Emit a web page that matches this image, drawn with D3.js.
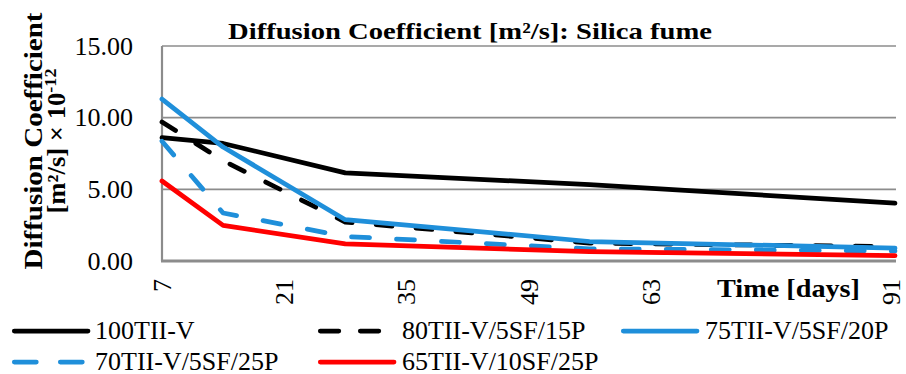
<!DOCTYPE html>
<html><head><meta charset="utf-8">
<script src="https://cdn.jsdelivr.net/npm/d3@7"></script>
<style>
body{margin:0;background:#fff}
svg{display:block}
svg text{font-family:"Liberation Serif","Tinos","Times New Roman","DejaVu Serif",serif}
</style>
</head><body>
<svg id="c" width="906" height="374"></svg>
<script>
// ---- data ----
const days = [7, 14, 28, 56, 91];
const names = ["100TII-V", "80TII-V/5SF/15P", "75TII-V/5SF/20P", "70TII-V/5SF/25P", "65TII-V/10SF/25P"];
const s100 = [8.6, 8.2, 6.15, 5.33, 4.04];
const s80  = [9.7, 7.0, 2.72, 1.25, 1.0];
const s75  = [11.3, 7.95, 2.88, 1.36, 0.9];
const s70  = [8.36, 3.35, 1.71, 0.85, 0.7];
const s65  = [5.58, 2.48, 1.2, 0.65, 0.37];
const yTicks = [0, 5, 10, 15];
const xTicks = [7, 21, 35, 49, 63, 91];
const title = "Diffusion Coefficient [m²/s]: Silica fume";
const xTitle = "Time [days]";

// ---- styles ----
const colors = ["#000000", "#000000", "#1f8fda", "#1f8fda", "#ff0000"];
const dashes = [null, "16,24", null, "18,27", null];
const legDashes = [null, "18.5,21.5", null, "22,24", null];
const allValues = [s100, s80, s75, s70, s65];

const svg = d3.select("#c");
const x = d3.scaleLinear().domain([7, 91]).range([162, 895]);
const y = d3.scaleLinear().domain([0, 15]).range([261, 46]);

// gridlines
svg.append("g").selectAll("line").data(yTicks.filter(d => d > 0)).join("line")
  .attr("x1", x(7)).attr("x2", x(91) + 1).attr("y1", d => y(d)).attr("y2", d => y(d))
  .attr("stroke", "#8c8c8c").attr("stroke-width", 1.7);

// axis lines
svg.append("line").attr("x1", x(7)).attr("x2", x(7)).attr("y1", y(15)).attr("y2", y(0))
  .attr("stroke", "#8c8c8c").attr("stroke-width", 2.2);
svg.append("line").attr("x1", x(7) - 1).attr("x2", x(91) + 1).attr("y1", y(0)).attr("y2", y(0))
  .attr("stroke", "#8c8c8c").attr("stroke-width", 2.8);

// y axis labels
const ya = svg.append("g").attr("transform", `translate(${x(7)},0)`)
  .call(d3.axisLeft(y).tickValues(yTicks).tickFormat(d3.format(".2f")).tickSize(0).tickPadding(29));
ya.select(".domain").remove();
ya.attr("font-family", null);
ya.selectAll("text").attr("font-size", 26).attr("fill", "#000");

// x axis labels
const xa = svg.append("g").attr("transform", `translate(0,${y(0)})`)
  .call(d3.axisBottom(x).tickValues(xTicks).tickFormat(d3.format("d")).tickSize(0));
xa.select(".domain").remove();
xa.attr("font-family", null);
xa.selectAll("text").attr("font-size", 26).attr("fill", "#000")
  .attr("transform", "rotate(-90)").attr("text-anchor", "end")
  .attr("x", -18).attr("y", d => d === 91 ? 4 : 8.5).attr("dy", 0);

// series lines
const line = d3.line().x((d, i) => x(days[i])).y(d => y(d));
allValues.forEach((vals, i) => {
  svg.append("path").datum(vals).attr("d", line)
    .attr("fill", "none").attr("stroke", colors[i]).attr("stroke-width", 4.75)
    .attr("stroke-linejoin", "round").attr("stroke-linecap", "round")
    .attr("stroke-dasharray", dashes[i]);
});

// title
svg.append("text").attr("x", 470).attr("y", 39).attr("text-anchor", "middle")
  .attr("font-weight", "bold").attr("font-size", 23)
  .attr("textLength", 484).attr("lengthAdjust", "spacingAndGlyphs").text(title);

// y axis title (two lines)
svg.append("text").attr("transform", "translate(42,141) rotate(-90)")
  .attr("text-anchor", "middle").attr("font-weight", "bold")
  .attr("font-size", 25).attr("textLength", 257).attr("lengthAdjust", "spacingAndGlyphs")
  .text("Diffusion Coefficient");
const yt2 = svg.append("text").attr("transform", "translate(65,141) rotate(-90)")
  .attr("text-anchor", "middle").attr("font-weight", "bold")
  .attr("font-size", 25).attr("textLength", 145).attr("lengthAdjust", "spacingAndGlyphs");
yt2.append("tspan").text("[m²/s] × 10");
yt2.append("tspan").attr("dy", -9).attr("font-size", 17).text("-12");

// x axis title
svg.append("text").attr("x", 717).attr("y", 297)
  .attr("font-weight", "bold").attr("font-size", 25)
  .attr("textLength", 143).attr("lengthAdjust", "spacingAndGlyphs").text(xTitle);

// legend
const legCols = [[12, 95], [318, 402], [621, 705]];
const legRows = [331, 362];
names.forEach((n, i) => {
  const col = legCols[i % 3], row = legRows[Math.floor(i / 3)];
  const dashed = legDashes[i] != null;
  const x1 = col[0] + 2.3;
  const x2 = dashed ? col[0] + 73 : col[0] + 76;
  svg.append("line").attr("x1", x1).attr("x2", x2).attr("y1", row).attr("y2", row)
    .attr("stroke", colors[i]).attr("stroke-width", 4.75).attr("stroke-linecap", "round")
    .attr("stroke-dasharray", legDashes[i]);
  svg.append("text").attr("x", col[1]).attr("y", row + 7.5)
    .attr("font-size", 26).attr("fill", "#000").text(n);
});
</script>
</body></html>
